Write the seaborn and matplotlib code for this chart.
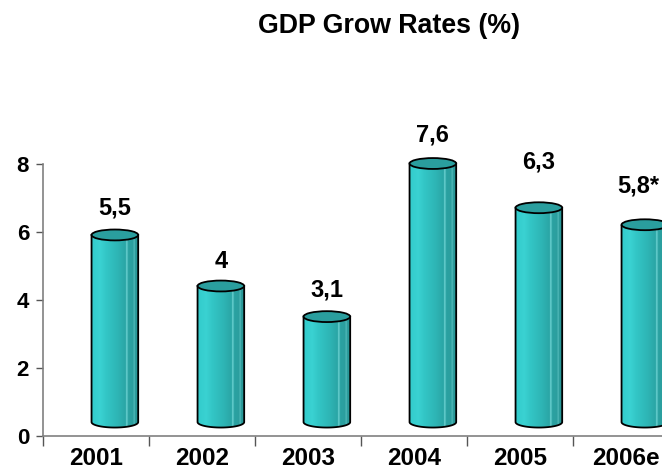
import numpy as np
import matplotlib
matplotlib.use("Agg")
import matplotlib.pyplot as plt
from matplotlib.patches import Ellipse, PathPatch
from matplotlib.path import Path
from matplotlib.colors import to_rgb
import seaborn as sns

# ---- data ----
years = ["2001", "2002", "2003", "2004", "2005", "2006e"]
growth = [5.5, 4.0, 3.1, 7.6, 6.3, 5.8]
value_labels = ["5,5", "4", "3,1", "7,6", "6,3", "5,8*"]
y_ticks = [0, 2, 4, 6, 8]

# label placement offsets (layout only)
label_offsets = [1.18, 1.12, 1.17, 1.24, 1.74, 1.53]
label_dx = [0, 0, 0, 0, 0, -0.06]

sns.set_theme(style="white")
plt.rcParams["font.family"] = ["Liberation Sans", "DejaVu Sans"]
plt.rcParams["font.weight"] = "bold"
plt.rcParams["text.color"] = "black"

fig = plt.figure(figsize=(6.62, 4.71), dpi=100)
ax = fig.add_axes([43 / 662, (471 - 435.7) / 471, 636 / 662, 272.2 / 471])

sns.barplot(x=years, y=growth, ax=ax, width=0.44, color="#30C0C0",
            saturation=1, edgecolor="none", linewidth=0, zorder=2)

# gradient for cylinder body
stops = [(0.0, "#33CCCC"), (0.18, "#3AD2D2"), (0.3, "#33C6C6"), (0.55, "#2EB5B5"),
         (0.72, "#2AA5A5"), (0.74, "#7ADCDC"), (0.77, "#2AA2A2"), (0.88, "#2C9E9E"),
         (0.9, "#5CC4C4"), (0.92, "#2A9A9A"), (1.0, "#289595")]
N = 200
xs = np.linspace(0, 1, N)
pos = [s[0] for s in stops]
cols = np.array([to_rgb(s[1]) for s in stops])
grad = np.stack([np.interp(xs, pos, cols[:, k]) for k in range(3)], axis=-1)[None, :, :]

shift_x = 0.178
base = 0.4
b = 0.16  # ellipse half height (y units)

for p, v in zip(list(ax.patches), growth):
    p.set_x(p.get_x() + shift_x)
    p.set_y(base)
    x0 = p.get_x()
    w = p.get_width()
    x1 = x0 + w
    xc = x0 + w / 2
    yb = base
    yt = base + p.get_height()
    p.set_visible(False)
    t = np.linspace(np.pi, 2 * np.pi, 40)
    verts = [(x0, yt), (x0, yb)] + [(xc + w / 2 * np.cos(a), yb + b * np.sin(a)) for a in t] + [(x1, yt), (x0, yt)]
    codes = [Path.MOVETO] + [Path.LINETO] * (len(verts) - 2) + [Path.CLOSEPOLY]
    body = PathPatch(Path(verts, codes), facecolor="none", edgecolor="black",
                     linewidth=1.3, zorder=3, clip_on=False)
    ax.add_patch(body)
    im = ax.imshow(grad, extent=(x0, x1, yb - b, yt), aspect="auto", zorder=2.5,
                   interpolation="bilinear")
    im.set_clip_path(body)
    top = Ellipse((xc, yt), w, 2 * b, facecolor="#2A9E9E", edgecolor="black",
                  linewidth=1.3, zorder=4, clip_on=False)
    ax.add_patch(top)

for i, (v, lab, off, dx) in enumerate(zip(growth, value_labels, label_offsets, label_dx)):
    ax.text(i + shift_x + dx, v + off, lab, ha="center", va="center",
            fontsize=17, fontweight="bold", color="black", clip_on=False)

ax.set_xlim(-0.5, 5.5)
ax.set_ylim(0, 8)
ax.set_yticks(y_ticks)
ax.set_yticklabels([str(t) for t in y_ticks], fontsize=16, fontweight="bold")
ax.set_xticks(range(len(years)))
ax.set_xticklabels(years, fontsize=17.5, fontweight="bold")
ax.set_xticks(np.arange(-0.5, 6.0, 1.0), minor=True)
ax.tick_params(axis="x", which="major", length=0, pad=8, labelcolor="black")
ax.tick_params(axis="x", which="minor", length=7, width=1, color="#555555", direction="out", bottom=True)
ax.tick_params(axis="y", which="major", length=5, width=1, color="#555555", direction="out",
               left=True, pad=5, labelcolor="black")
ax.set_xlabel("")
ax.set_ylabel("")
for s in ["top", "right"]:
    ax.spines[s].set_visible(False)
for s in ["left", "bottom"]:
    ax.spines[s].set_color("#808080")
    ax.spines[s].set_linewidth(1.2)
ax.grid(False)

fig.text(389 / 662, 1 - 26 / 471, "GDP Grow Rates (%)", ha="center", va="center",
         fontsize=19.3, fontweight="bold", color="black")

fig.savefig("out.png", dpi=100)
